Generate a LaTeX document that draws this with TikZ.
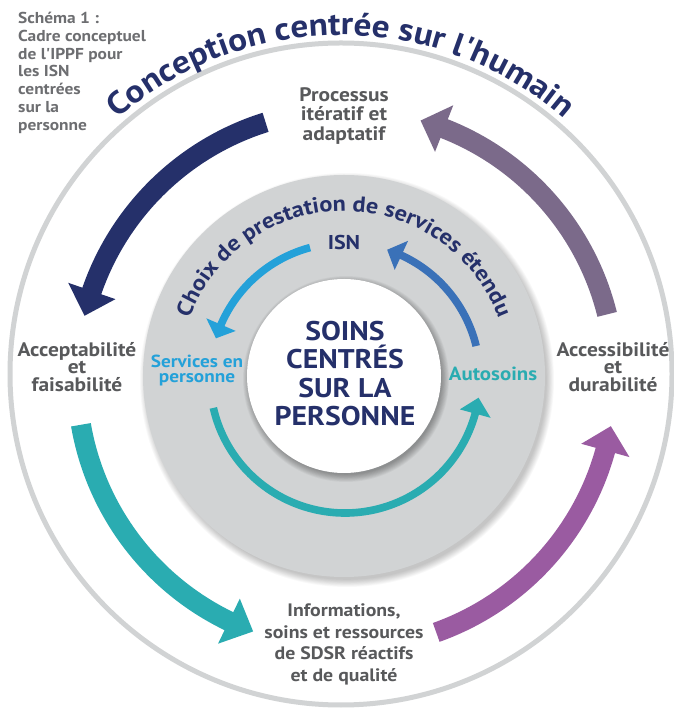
\documentclass[tikz,border=0pt]{standalone}
\usepackage{fontspec}
\setmainfont{PT Sans}[FakeStretch=1.1, Ligatures=TeXOff]
\usetikzlibrary{decorations.text}

\definecolor{navy}{HTML}{25306A}
\definecolor{mauve}{HTML}{7B6A8A}
\definecolor{tealc}{HTML}{2AACB1}
\definecolor{plum}{HTML}{9A5BA1}
\definecolor{skyblue}{HTML}{24A1D9}
\definecolor{midblue}{HTML}{3A71B8}
\definecolor{labelgray}{HTML}{58595B}
\definecolor{capgray}{HTML}{6D6E71}
\definecolor{ringgray}{HTML}{D1D3D4}

% curved band arrow: centre, colour, radius, half width, half head width,
% start angle, head base angle, tip angle
\newcommand\ringarrow[8]{%
  \fill[#2, shift={#1}]
    (#6:#3-#4) arc[start angle=#6, end angle=#7, radius=#3-#4]
    -- (#7:#3-#5) -- (#8:#3) -- (#7:#3+#5)
    -- (#7:#3+#4) arc[start angle=#7, end angle=#6, radius=#3+#4] -- cycle;}

\tikzset{
  phase/.style={text=labelgray, align=center, inner sep=0pt,
    font=\bfseries\fontsize{19.5}{17.5}\selectfont},
  channel/.style={align=center, inner sep=0pt,
    font=\bfseries\fontsize{17.5}{14.5}\selectfont},
}

\begin{document}
\begin{tikzpicture}[x=1pt, y=1pt]
\useasboundingbox (0,0) rectangle (674,709);
\fill[white] (0,0) rectangle (674,709);

% outer ring
\draw[ringgray, line width=5pt] (341,335) circle[radius=331];

% grey disc with a soft drop shadow
\foreach \k in {1,...,10}
  \fill[black, opacity=0.025] (347,329) circle[radius=199+\k*0.8];
\fill[ringgray] (344,333) circle[radius=201];

% white centre disc with its shadow on the grey
\foreach \k in {1,...,10}
  \fill[black, opacity=0.035] (346,330) circle[radius=95+\k*0.8];
\fill[white] (344,333) circle[radius=97];

% outer cycle of arrows
\ringarrow{(346,330)}{navy}{269}{10}{25}{107.4}{160.9}{166.4}
\ringarrow{(346,330)}{tealc}{269}{10}{25}{189.8}{244.2}{249.8}
\ringarrow{(346,330)}{plum}{269}{10}{25}{289.6}{344.6}{349.9}
\ringarrow{(346,330)}{mauve}{269}{10}{25}{13.9}{68.6}{73.9}

% inner cycle of arrows
\ringarrow{(345,331)}{skyblue}{135}{3.8}{16}{105}{156.7}{162.9}
\ringarrow{(345,331)}{midblue}{135}{3.8}{16}{13.7}{65.3}{71.8}
\ringarrow{(345,331)}{tealc}{135}{3.8}{16}{192.8}{344.7}{351.6}

% curved titles
\path[decorate, decoration={text along path, text align=center,
    text={|\color{navy}\bfseries\fontsize{32}{32}\selectfont|Conception centrée sur l'humain}}]
  (341,335) ++(170:339) arc[start angle=170, end angle=10, radius=339];
\path[decorate, decoration={text along path, text align=center,
    text={|\color{navy}\bfseries\fontsize{22}{22}\selectfont|Choix de prestation de services étendu}}]
  (344,333) ++(185:165) arc[start angle=185, end angle=-5, radius=165];

% caption
\node[anchor=north west, align=left, inner sep=0pt, text=capgray,
      font=\bfseries\fontsize{15.8}{17.8}\selectfont] (caption) at (18,697)
  {Schéma 1 :\\Cadre conceptuel\\de l'IPPF pour\\les ISN\\centrées\\sur la\\personne};

% phase labels
\node[phase, anchor=north, font=\bfseries\fontsize{19.5}{19.5}\selectfont] (iter) at (344,622)
  {Processus\\itératif et\\adaptatif};
\node[phase, anchor=north] (accept) at (77,367) {Acceptabilité\\et\\faisabilité};
\node[phase, anchor=north] (access) at (613,367) {Accessibilité\\et\\durabilité};
\node[phase, anchor=north, font=\bfseries\fontsize{18}{21.5}\selectfont] (info) at (344,105)
  {Informations,\\soins et ressources\\de SDSR réactifs\\et de qualité};

% centre
\node[anchor=north, align=center, inner sep=0pt, text=navy,
      font=\bfseries\fontsize{27}{28.3}\selectfont] (core) at (345,388)
  {SOINS\\CENTRÉS\\SUR LA\\PERSONNE};

% delivery channels
\node[channel, anchor=north, text=navy, font=\bfseries\fontsize{20}{20}\selectfont] (isn) at (344,474) {ISN};
\node[channel, anchor=north, text=skyblue] (inperson) at (197,354) {Services en\\personne};
\node[channel, anchor=north, text=tealc, font=\bfseries\fontsize{19}{19}\selectfont] (self) at (493,342) {Autosoins};
\end{tikzpicture}
\end{document}
